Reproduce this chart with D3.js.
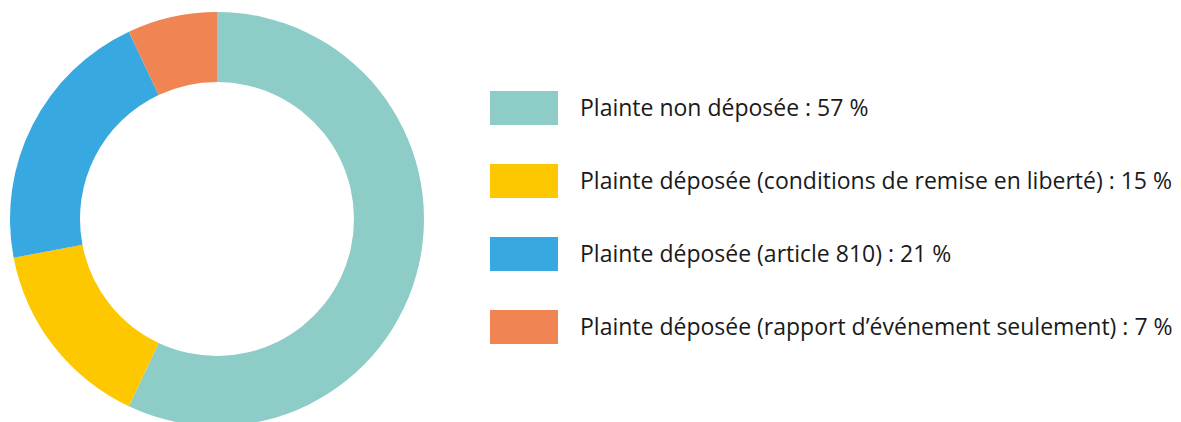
<!DOCTYPE html>
<html>
<head>
<meta charset="utf-8">
<script src="https://cdn.jsdelivr.net/npm/d3@7"></script>
<style>
  body { margin: 0; background: #fff; }
  svg { display: block; }
</style>
</head>
<body>
<script>
// donut + legend
const labels = [
    "Plainte non déposée",
    "Plainte déposée (conditions de remise en liberté)",
    "Plainte déposée (article 810)",
    "Plainte déposée (rapport d’événement seulement)"
];
const values = [57, 15, 21, 7];
const colors = ["#8ecdc7", "#fdc800", "#38a9e0", "#f08453"];

const width = 1181, height = 422;

const svg = d3.select('body')
    .append('svg')
    .attr('width', width)
    .attr('height', height);

const pie = d3.pie().sort(null).value(d => d);
const arc = d3.arc().innerRadius(137).outerRadius(207);

svg.append('g')
    .attr('transform', 'translate(217,219)')
    .selectAll('path')
    .data(pie(values))
    .enter()
    .append('path')
    .attr('d', arc)
    .attr('fill', (d, i) => colors[i]);

const y = d3.scaleBand()
    .domain(d3.range(labels.length))
    .range([91, 91 + 73 * 4])
    .paddingInner(0);

const rows = svg.selectAll('.row')
    .data(labels)
    .enter()
    .append('g')
    .attr('class', 'row')
    .attr('transform', (d, i) => `translate(490,${y(i)})`);

rows.append('rect')
    .attr('width', 68)
    .attr('height', 34)
    .attr('fill', (d, i) => colors[i]);

rows.append('text')
    .attr('x', 90)
    .attr('y', 17)
    .attr('dy', '0.35em')
    .style('font-family', '"Open Sans", sans-serif')
    .style('font-size', '23px')
    .attr('fill', '#1a1a1a')
    .text((d, i) => `${d} : ${values[i]} %`);
</script>
</body>
</html>
